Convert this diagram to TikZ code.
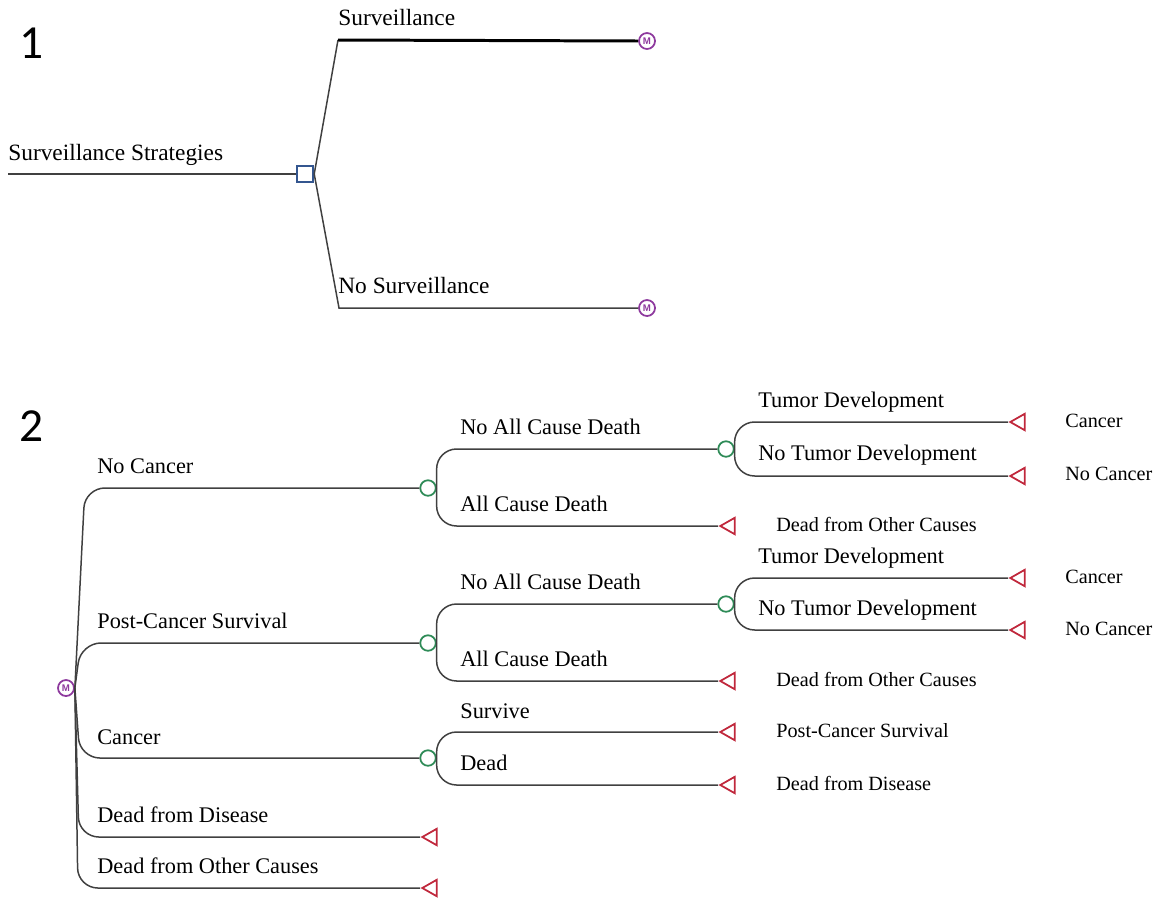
\documentclass[tikz,border=0pt]{standalone}
\usepackage{fontspec}
\setmainfont{Liberation Serif}
\newfontfamily\numfont{Carlito}
\newfontfamily\mfont{Liberation Sans}
\usetikzlibrary{shapes.geometric}
\definecolor{mpurple}{HTML}{8E3A9E}
\definecolor{cgreen}{HTML}{2E8B57}
\definecolor{tred}{HTML}{C0283C}
\definecolor{dblue}{HTML}{34568F}
\definecolor{lgray}{HTML}{404040}
\begin{document}
\begin{tikzpicture}[x=0.02cm,y=-0.02cm,
  br/.style={draw=lgray, line width=0.85pt},
  thickbr/.style={draw=black, line width=1.7pt},
  curved/.style={br, rounded corners=0.4cm},
  markov/.style={circle, draw=mpurple, line width=1pt, minimum size=0.32cm, inner sep=0pt,
    font=\mfont\bfseries\fontsize{5.5}{5.5}\selectfont, text=mpurple},
  chance/.style={circle, draw=cgreen, line width=1pt, minimum size=0.31cm, inner sep=0pt},
  decision/.style={rectangle, draw=dblue, line width=1.1pt, minimum size=0.33cm, inner sep=0pt},
  term/.style={isosceles triangle, isosceles triangle stretches, shape border rotate=180,
    draw=tred, line width=1pt, minimum width=0.33cm, minimum height=0.29cm, inner sep=0pt, anchor=apex},
  lblA/.style={anchor=base west, inner sep=0pt, font=\fontsize{13.3}{15}\selectfont},
  lbl/.style={anchor=base west, inner sep=0pt, font=\fontsize{12.7}{15}\selectfont},
  tlbl/.style={anchor=base west, inner sep=0pt, font=\fontsize{11.5}{14}\selectfont},
  num/.style={anchor=base west, inner sep=0pt, font=\numfont\fontsize{27}{30}\selectfont},
]
\useasboundingbox (0,0) rectangle (1166,900);

% ---------- Part 1 ----------
\node[num] (n1) at (19,58) {1};
\coordinate (root) at (8,174);
\node[decision] (dec) at (305,174) {};
\coordinate (sa) at (338,40);
\coordinate (nsa) at (339,308);
\node[markov] (ms) at (647,41) {M};
\node[markov] (mns) at (647,308) {M};
\draw[br] (root) -- (dec.west);
\draw[br] (dec.east) -- (sa);
\draw[thickbr] (sa) -- (ms.west);
\draw[br] (dec.east) -- (nsa) -- (mns.west);
\node[lblA] (l_ss) at (8,160) {Surveillance Strategies};
\node[lblA] (l_s) at (338,25) {Surveillance};
\node[lblA] (l_ns) at (338,293) {No Surveillance};

% ---------- Part 2 ----------
\node[num] (n2) at (19,441) {2};
\node[markov] (m2) at (66,688) {M};

\node[chance] (cnc) at (428,488) {};
\node[chance] (cpcs) at (428,643) {};
\node[chance] (cca) at (428,758) {};
\node[term] (tdd) at (420,837) {};
\node[term] (tdo) at (420,888) {};

\foreach \t/\s in {cnc/0.2,cpcs/0.12,cca/0.1,tdd/0.08,tdo/0.06}{
  \draw[curved] (m2.east) -- ([xshift=\s cm]m2.east |- \t.west) -- (\t.west);
}
\node[lbl] (l_nc) at (97,473) {No Cancer};
\node[lbl] (l_pcs) at (97,628) {Post-Cancer Survival};
\node[lbl] (l_ca) at (97,744) {Cancer};
\node[lbl] (l_dd) at (97,822) {Dead from Disease};
\node[lbl] (l_do) at (97,873) {Dead from Other Causes};

% No Cancer subtree
\node[chance] (cnc2) at (726,449) {};
\node[term] (tnc2) at (718,526) {};
\draw[curved] (cnc.east) -- (cnc.east |- cnc2.west) -- (cnc2.west);
\draw[curved] (cnc.east) -- (cnc.east |- tnc2.apex) -- (tnc2.apex);
\node[lbl] (l_nacd1) at (460,434) {No All Cause Death};
\node[lbl] (l_acd1) at (460,511) {All Cause Death};
\node[tlbl] (tl_do1) at (776,531) {Dead from Other Causes};

\node[term] (ttd1) at (1008,422) {};
\node[term] (tntd1) at (1008,476) {};
\draw[curved] (cnc2.east) -- (cnc2.east |- ttd1.apex) -- (ttd1.apex);
\draw[curved] (cnc2.east) -- (cnc2.east |- tntd1.apex) -- (tntd1.apex);
\node[lbl] (l_td1) at (758,407) {Tumor Development};
\node[lbl] (l_ntd1) at (758,460) {No Tumor Development};
\node[tlbl] (tl_c1) at (1065,427) {Cancer};
\node[tlbl] (tl_nc1) at (1065,480) {No Cancer};

% Post-Cancer Survival subtree
\node[chance] (cpcs2) at (726,604) {};
\node[term] (tpcs2) at (718,681) {};
\draw[curved] (cpcs.east) -- (cpcs.east |- cpcs2.west) -- (cpcs2.west);
\draw[curved] (cpcs.east) -- (cpcs.east |- tpcs2.apex) -- (tpcs2.apex);
\node[lbl] (l_nacd2) at (460,589) {No All Cause Death};
\node[lbl] (l_acd2) at (460,666) {All Cause Death};
\node[tlbl] (tl_do2) at (776,686) {Dead from Other Causes};

\node[term] (ttd2) at (1008,578) {};
\node[term] (tntd2) at (1008,630) {};
\draw[curved] (cpcs2.east) -- (cpcs2.east |- ttd2.apex) -- (ttd2.apex);
\draw[curved] (cpcs2.east) -- (cpcs2.east |- tntd2.apex) -- (tntd2.apex);
\node[lbl] (l_td2) at (758,563) {Tumor Development};
\node[lbl] (l_ntd2) at (758,615) {No Tumor Development};
\node[tlbl] (tl_c2) at (1065,583) {Cancer};
\node[tlbl] (tl_nc2) at (1065,635) {No Cancer};

% Cancer subtree
\node[term] (tsv) at (718,732) {};
\node[term] (tdd2) at (718,785) {};
\draw[curved] (cca.east) -- (cca.east |- tsv.apex) -- (tsv.apex);
\draw[curved] (cca.east) -- (cca.east |- tdd2.apex) -- (tdd2.apex);
\node[lbl] (l_sv) at (460,718) {Survive};
\node[lbl] (l_dead) at (460,770) {Dead};
\node[tlbl] (tl_pcs) at (776,737) {Post-Cancer Survival};
\node[tlbl] (tl_dd) at (776,790) {Dead from Disease};
\end{tikzpicture}
\end{document}
